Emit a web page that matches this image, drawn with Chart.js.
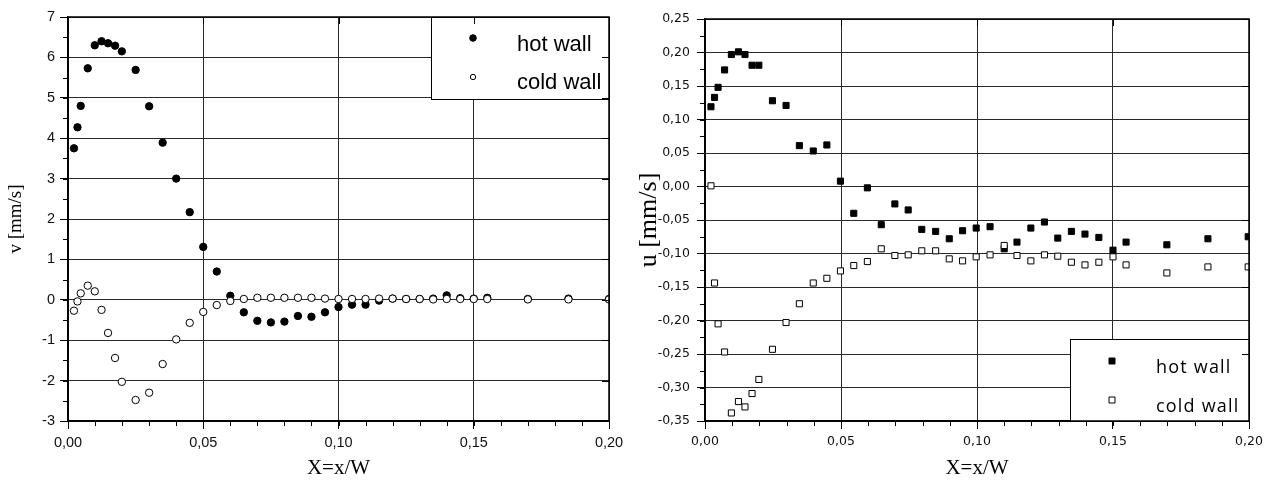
<!DOCTYPE html>
<html>
<head>
<meta charset="utf-8">
<script src="https://cdn.jsdelivr.net/npm/chart.js@4.4.1/dist/chart.umd.min.js"></script>
<style>
  body{margin:0;background:#fff;}
  .box{position:absolute;top:0;height:485px;}
  #boxV{left:0;width:636px;}
  #boxU{left:636px;width:637px;}
</style>
</head>
<body>
<div class="box" id="boxV"><canvas id="chartV"></canvas></div>
<div class="box" id="boxU"><canvas id="chartU"></canvas></div>
<script>
// ---- data ----
const seriesNames = ['hot wall', 'cold wall'];

// left plot: v [mm/s]
const vX    = [0.0022,0.0035,0.0047,0.0073,0.0099,0.0124,0.0148,0.0174,0.0199,0.025,0.03,0.035,0.04,0.045,0.05,0.055,0.06,0.065,0.07,0.075,0.08,0.085,0.09,0.095,0.10,0.105,0.11,0.115,0.12,0.125,0.13,0.135,0.14,0.145,0.15,0.155,0.17,0.185,0.20];
const vHot  = [3.75,4.27,4.80,5.73,6.30,6.40,6.35,6.29,6.15,5.69,4.79,3.89,3.00,2.17,1.31,0.70,0.10,-0.31,-0.52,-0.56,-0.54,-0.40,-0.42,-0.31,-0.18,-0.12,-0.12,-0.02,0.03,0.02,0.02,0.03,0.11,0.04,0.03,0.05,0.02,0.03,0.02];
const vCold = [-0.27,-0.04,0.16,0.35,0.21,-0.25,-0.82,-1.44,-2.03,-2.48,-2.30,-1.59,-0.98,-0.57,-0.30,-0.13,-0.03,0.02,0.05,0.05,0.05,0.05,0.05,0.03,0.02,0.02,0.02,0.03,0.03,0.02,0.02,0.01,0.02,0.02,0.02,0.02,0.01,0.01,0.01];

// right plot: u [mm/s]
const uX    = [0.0022,0.0035,0.0048,0.0072,0.0097,0.0123,0.0147,0.0173,0.0198,0.0248,0.0298,0.0347,0.0398,0.0448,0.0498,0.0547,0.0597,0.0648,0.0698,0.0747,0.0797,0.0848,0.0898,0.0947,0.0997,0.1048,0.11,0.1147,0.1198,0.1248,0.1297,0.1347,0.1397,0.1448,0.15,0.1548,0.1698,0.1849,0.1997];
const uHot  = [0.119,0.133,0.148,0.174,0.197,0.201,0.197,0.181,0.181,0.128,0.121,0.061,0.053,0.062,0.008,-0.040,-0.002,-0.057,-0.026,-0.035,-0.064,-0.067,-0.078,-0.066,-0.062,-0.060,-0.093,-0.083,-0.062,-0.053,-0.077,-0.067,-0.071,-0.076,-0.095,-0.083,-0.087,-0.078,-0.075];
const uCold = [0.001,-0.144,-0.205,-0.247,-0.338,-0.321,-0.329,-0.309,-0.288,-0.243,-0.203,-0.175,-0.144,-0.137,-0.126,-0.118,-0.112,-0.093,-0.103,-0.102,-0.096,-0.096,-0.108,-0.111,-0.105,-0.102,-0.088,-0.103,-0.111,-0.102,-0.104,-0.113,-0.117,-0.113,-0.105,-0.117,-0.129,-0.120,-0.120];

// axis ranges / ticks
const xRange = [0, 0.20], xStep = 0.05, xMinor = 0.01;
const vRange = [-3, 7],   vStep = 1,    vMinor = 0.5;
const uRange = [-0.35, 0.25], uStep = 0.05, uMinor = 0.025;

// ---- helpers ----
const pts = (xs, ys) => xs.map((x, i) => ({x, y: ys[i]}));
const comma = (v, d) => (Math.abs(v) < 1e-9 ? 0 : v).toFixed(d).replace('.', ',');

// frame + minor ticks + in-plot legend
const framePlugin = {
  id: 'frame',
  afterDraw(chart, args, o) {
    const {ctx, chartArea: a, scales: {x, y}} = chart;
    ctx.save();
    // legend box
    const L = o.legend;
    const bx = a.right - L.w, by = L.corner === 'top' ? a.top : a.bottom - L.h;
    ctx.fillStyle = '#fff'; ctx.fillRect(bx, by, L.w, L.h);
    ctx.strokeStyle = '#000'; ctx.lineWidth = 1;
    ctx.strokeRect(Math.round(bx) + 0.5, Math.round(by) + 0.5, L.w, L.h);
    ctx.font = L.font; ctx.textBaseline = 'alphabetic'; ctx.textAlign = 'left';
    if ('letterSpacing' in ctx) ctx.letterSpacing = L.spacing || '0px';
    chart.data.datasets.forEach((ds, i) => {
      const mx = bx + L.markerDx, my = by + L.markerDy[i], r = L.markerR[i];
      ctx.beginPath();
      if (ds.pointStyle === 'rect') ctx.rect(mx - r, my - r, 2 * r, 2 * r);
      else ctx.arc(mx, my, r, 0, Math.PI * 2);
      ctx.fillStyle = ds.pointBackgroundColor; ctx.fill();
      ctx.lineWidth = 1; ctx.strokeStyle = '#000'; ctx.stroke();
      ctx.fillStyle = '#000';
      ctx.fillText(ds.label, bx + L.textDx, by + L.textDy[i]);
    });
    if ('letterSpacing' in ctx) ctx.letterSpacing = '0px';
    // minor ticks (outside) and inward ticks on top/right
    ctx.strokeStyle = '#000'; ctx.lineWidth = 1; ctx.beginPath();
    const nx = Math.round((x.max - x.min) / o.minorX);
    for (let i = 0; i <= nx; i++) {
      const px = Math.round(x.getPixelForValue(x.min + i * o.minorX)) + 0.5;
      ctx.moveTo(px, a.bottom); ctx.lineTo(px, a.bottom + 5);
    }
    const ny = Math.round((y.max - y.min) / o.minorY);
    for (let i = 0; i <= ny; i++) {
      const py = Math.round(y.getPixelForValue(y.min + i * o.minorY)) + 0.5;
      ctx.moveTo(a.left, py); ctx.lineTo(a.left - 5, py);
    }
    x.ticks.forEach(t => {
      const px = Math.round(x.getPixelForValue(t.value)) + 0.5;
      ctx.moveTo(px, a.top); ctx.lineTo(px, a.top + 7);
    });
    const nr = Math.round((y.max - y.min) / o.rightStep);
    for (let i = 0; i <= nr; i++) {
      const py = Math.round(y.getPixelForValue(y.max - i * o.rightStep)) + 0.5;
      ctx.moveTo(a.right, py); ctx.lineTo(a.right - 7, py);
    }
    ctx.stroke();
    ctx.lineWidth = 1.5;
    ctx.strokeRect(a.left, a.top, a.right - a.left, a.bottom - a.top);
    ctx.restore();
  }
};

function makeChart(id, cfg) {
  return new Chart(document.getElementById(id), {
    type: 'scatter',
    data: {
      datasets: [
        { label: seriesNames[0], data: cfg.hot, order: 1, pointStyle: cfg.style,
          pointRadius: cfg.r, pointHoverRadius: cfg.r, pointBackgroundColor: '#000',
          pointBorderColor: '#000', pointBorderWidth: 1 },
        { label: seriesNames[1], data: cfg.cold, order: 0, pointStyle: cfg.style,
          pointRadius: cfg.r, pointHoverRadius: cfg.r, pointBackgroundColor: '#fff',
          pointBorderColor: '#000', pointBorderWidth: 1 }
      ]
    },
    options: {
      responsive: true, maintainAspectRatio: false, animation: false,
      layout: { padding: cfg.pad },
      plugins: { legend: { display: false }, tooltip: { enabled: false }, frame: cfg.frame },
      scales: {
        x: {
          type: 'linear', min: xRange[0], max: xRange[1],
          ticks: { stepSize: xStep, padding: 5, color: '#111', font: cfg.tickFont, callback: v => comma(v, 2) },
          grid: { color: '#2a2a2a', tickColor: '#000', tickLength: 8 },
          border: { color: '#000', width: 1.5 },
          title: { display: true, text: 'X=x/W', color: '#000',
                   font: { family: 'Liberation Serif', size: 21 }, padding: { top: 0, bottom: 4 } },
          afterFit: s => { s.height = 64; }
        },
        y: {
          type: 'linear', min: cfg.yRange[0], max: cfg.yRange[1],
          ticks: { stepSize: cfg.yStep, padding: cfg.yPad, color: '#111', font: cfg.tickFont, callback: cfg.yFmt },
          grid: { color: '#2a2a2a', tickColor: '#000', tickLength: 8 },
          border: { color: '#000', width: 1.5 },
          title: { display: true, text: cfg.yTitle, color: '#000', font: cfg.yTitleFont, padding: cfg.yTitlePad },
          afterFit: s => { s.width = cfg.yWidth; }
        }
      }
    },
    plugins: [framePlugin]
  });
}

makeChart('chartV', {
  hot: pts(vX, vHot), cold: pts(vX, vCold), style: 'circle', r: 3.7,
  pad: { top: 17, right: 27, left: 0, bottom: 0 },
  tickFont: { family: 'Liberation Sans', size: 14.5 },
  yRange: vRange, yStep: vStep, yPad: 5, yFmt: v => String(Math.round(v)),
  yTitle: 'v [mm/s]', yTitleFont: { family: 'Liberation Serif', size: 19 }, yTitlePad: { top: 5, bottom: 0 },
  yWidth: 68,
  frame: { minorX: xMinor, minorY: vMinor, rightStep: vStep,
    legend: { corner: 'top', w: 178, h: 82, font: '22px "Liberation Sans"', spacing: '0px',
              markerDx: 42, markerDy: [21, 60], markerR: [3.3, 2.7], textDx: 86, textDy: [34, 72] } }
});

makeChart('chartU', {
  hot: pts(uX, uHot), cold: pts(uX, uCold), style: 'rect', r: 4.3,
  pad: { top: 19, right: 24, left: 0, bottom: 0 },
  tickFont: { family: 'DejaVu Sans', size: 12.5 },
  yRange: uRange, yStep: uStep, yPad: 7, yFmt: v => comma(v, 2),
  yTitle: 'u [mm/s]', yTitleFont: { family: 'Liberation Serif', size: 26, lineHeight: 1 }, yTitlePad: { top: 0, bottom: 0 },
  yWidth: 69,
  frame: { minorX: xMinor, minorY: uMinor, rightStep: 0.1,
    legend: { corner: 'bottom', w: 179, h: 82, font: '18px "Open Sans"', spacing: '1.2px',
              markerDx: 42, markerDy: [22, 61], markerR: [3, 3], textDx: 86, textDy: [34, 73] } }
});
</script>
</body>
</html>
